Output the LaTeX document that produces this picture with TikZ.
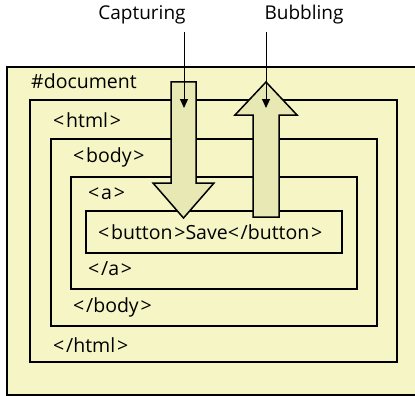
\documentclass[tikz,border=0pt]{standalone}
\usepackage{fontspec}
\setmainfont{Open Sans}
\usetikzlibrary{arrows.meta}
\definecolor{bg}{HTML}{F5F5C5}
\definecolor{arrfill}{HTML}{E8E8B5}
\newcommand{\lt}{<\kern1.8pt}
\newcommand{\gt}{\kern1.8pt>}
\begin{document}
\begin{tikzpicture}[x=1pt,y=-1pt,
  box/.style={draw=black,line width=2pt},
  blockarrow/.style={draw=black,line width=1.5pt,fill=arrfill,line join=miter},
  lbl/.style={anchor=west,inner sep=0pt,font=\fontsize{19.5}{22}\selectfont},
  top/.style={anchor=center,inner sep=0pt,font=\fontsize{19}{22}\selectfont},
  pointer/.style={draw=black,line width=1pt,-{Triangle[length=9pt,width=8pt]}}]
\useasboundingbox (0,0) rectangle (415,396);
\fill[white] (0,0) rectangle (415,396);
\begin{scope}
\clip (0,0) rectangle (415,396);
\draw[box,fill=bg] (7,67) rectangle (430,395);
\end{scope}
\draw[box] (30,100) rectangle (397,362);
\draw[box] (51,139) rectangle (377,326);
\draw[box] (71,177) rectangle (357,289);
\draw[box] (86,211) rectangle (342,253);
\node[lbl] (doc) at (31,81) {\#document};
\node[lbl] (html) at (53,120) {\lt html\gt};
\node[lbl] (body) at (73,157) {\lt body\gt};
\node[lbl] (a) at (88,194) {\lt a\gt};
\node[lbl] (btn) at (98,232) {\lt button\gt Save\lt/button\gt};
\node[lbl] (ea) at (88,269) {\lt/a\gt};
\node[lbl] (ebody) at (73,307) {\lt/body\gt};
\node[lbl] (ehtml) at (53,345) {\lt/html\gt};
\draw[blockarrow] (171,82) -- (196,82) -- (196,183) -- (214,183) -- (183.5,218) -- (153,183) -- (171,183) -- cycle;
\draw[blockarrow] (266,82) -- (297,115) -- (279,115) -- (279,217) -- (253,217) -- (253,115) -- (235,115) -- cycle;
\node[top] (cap) at (142,15) {Capturing};
\node[top] (bub) at (304,15) {Bubbling};
\coordinate (capend) at (184,108);
\coordinate (bubend) at (266,108);
\draw[pointer] (184,32) -- (capend);
\draw[pointer] (266,32) -- (bubend);
\end{tikzpicture}
\end{document}
